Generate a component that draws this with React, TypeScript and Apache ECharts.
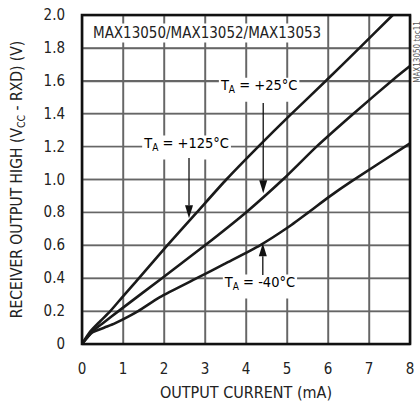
import React, { useEffect, useRef } from "react";
import * as echarts from "echarts";

// Output current (mA) and receiver output high voltage (V) for each temperature
const current125 = [0, 0.2, 0.45, 0.69, 1.0, 1.3, 2.08, 2.8, 3.52, 4.3, 5.07, 5.95, 6.77, 7.58];
const volt125 = [0, 0.075, 0.14, 0.2, 0.29, 0.375, 0.6, 0.8, 1.0, 1.2, 1.39, 1.6, 1.8, 2.0];

const current25 = [0, 0.25, 0.5, 0.89, 1.95, 3.0, 4.0, 4.9, 5.72, 6.62, 7.6, 8];
const volt25 = [0, 0.075, 0.125, 0.2, 0.4, 0.6, 0.8, 1.0, 1.2, 1.4, 1.61, 1.69];

const currentM40 = [0, 0.25, 0.55, 0.8, 1.37, 1.9, 2.8, 3.5, 4.34, 5.0, 5.52, 6.0, 6.58, 8];
const voltM40 = [0, 0.07, 0.1, 0.125, 0.2, 0.285, 0.4, 0.49, 0.6, 0.705, 0.8, 0.89, 0.99, 1.22];

const xTicks = ["0", "1", "2", "3", "4", "5", "6", "7", "8"];
const yTicks = ["0", "0.2", "0.4", "0.6", "0.8", "1.0", "1.2", "1.4", "1.6", "1.8", "2.0"];

// Annotation labels: temperature text, label centre (data units), arrow start and tip (data units)
const labelTemps = ["+125°C", "+25°C", "-40°C"];
const labelX = [2.55, 4.32, 4.34];
const labelY = [1.195, 1.545, 0.35];
const arrowX = [2.61, 4.42, 4.41];
const arrowFromY = [1.13, 1.465, 0.42];
const arrowToY = [0.765, 0.916, 0.612];

const FONT = "'Liberation Sans Narrow', 'Arial Narrow', 'DejaVu Sans Condensed', sans-serif";

const zip = (xs: number[], ys: number[]) => xs.map((x, i) => [x, ys[i]]);

export default function App() {
  const ref = useRef<HTMLDivElement>(null);
  useEffect(() => {
    if (!ref.current) return;
    const chart = echarts.init(ref.current, null, { renderer: "svg" });
    const mkSeries = (name: string, xs: number[], ys: number[]) => ({
      name,
      type: "line",
      data: zip(xs, ys),
      showSymbol: false,
      smooth: 0.2,
      lineStyle: { color: "#1a1a1a", width: 2.6 },
      z: 12,
    });
    chart.setOption({
      animation: false,
      grid: {
        left: 82,
        right: 10,
        top: 15,
        bottom: 60,
        containLabel: false,
        outerBoundsMode: "none",
        show: false,
      },
      xAxis: {
        type: "value",
        min: 0,
        max: 8,
        interval: 1,
        name: "OUTPUT CURRENT (mA)",
        nameLocation: "middle",
        nameGap: 40,
        nameMoveOverlap: false,
        nameTextStyle: { fontFamily: FONT, fontSize: 16, color: "#222" },
        axisLine: { show: false },
        axisTick: { show: false },
        axisLabel: {
          margin: 17,
          fontFamily: FONT,
          fontSize: 15,
          color: "#222",
          formatter: (v: number) => xTicks[Math.round(v)],
        },
        splitLine: { show: true, lineStyle: { color: "#666666", width: 1.4 } },
      },
      yAxis: {
        type: "value",
        min: 0,
        max: 2,
        interval: 0.2,
        name: "{n|RECEIVER OUTPUT HIGH (V}{s|CC}{n| - RXD) (V)}",
        nameLocation: "middle",
        nameRotate: 90,
        nameGap: 49,
        nameMoveOverlap: false,
        nameTextStyle: {
          fontFamily: FONT,
          color: "#222",
          rich: {
            n: { fontFamily: FONT, fontSize: 15.5, color: "#222", lineHeight: 16, verticalAlign: "top" },
            s: { fontFamily: FONT, fontSize: 10.5, color: "#222", lineHeight: 24, verticalAlign: "middle" },
          },
        },
        axisLine: { show: false },
        axisTick: { show: false },
        axisLabel: {
          margin: 17,
          fontFamily: FONT,
          fontSize: 15,
          color: "#222",
          formatter: (v: number) => yTicks[Math.round(v * 5)],
        },
        splitLine: { show: true, lineStyle: { color: "#666666", width: 1.4 } },
      },
      series: [
        mkSeries("TA = +125°C", current125, volt125),
        mkSeries("TA = +25°C", current25, volt25),
        mkSeries("TA = -40°C", currentM40, voltM40),
      ],
    });

    const px = (x: number, y: number) => chart.convertToPixel({ gridIndex: 0 }, [x, y]) as number[];
    const graphics: any[] = [];
    const [bx0, by0] = px(0, 2);
    const [bx1, by1] = px(8, 0);
    // grid lines at each tick value, placed through the axis scales
    const gridPts: number[][] = [];
    xTicks.slice(1, -1).forEach((t) => {
      const [gx] = px(Number(t), 0);
      gridPts.push([gx, by0, gx, by1]);
    });
    yTicks.slice(1, -1).forEach((t) => {
      const [, gy] = px(0, Number(t));
      gridPts.push([bx0, gy, bx1, gy]);
    });
    gridPts.forEach(([x1, y1, x2, y2]) => {
      graphics.push({
        type: "polyline",
        z: 11,
        shape: { points: [[x1, y1], [x2, y2]] },
        style: { stroke: "#666666", lineWidth: 1.4, fill: null },
      });
    });
    graphics.push({
      type: "rect",
      z: 15,
      shape: { x: bx0, y: by0, width: bx1 - bx0, height: by1 - by0 },
      style: { fill: null, stroke: "#111", lineWidth: 2.6 },
    });
    const rich = {
      t: { fontFamily: FONT, fontSize: 14.5, color: "#222", lineHeight: 15, verticalAlign: "top" },
      s: { fontFamily: FONT, fontSize: 10, color: "#222", lineHeight: 24, verticalAlign: "middle" },
    };
    labelTemps.forEach((t, i) => {
      const [lx, ly] = px(labelX[i], labelY[i]);
      graphics.push({
        type: "text",
        z: 20,
        x: lx,
        y: ly,
        style: {
          text: `{t|T}{s|A}{t| = ${t}}`,
          rich,
          align: "center",
          verticalAlign: "middle",
          backgroundColor: "#fff",
          padding: [0, 2],
        },
      });
      const [ax, ay1] = px(arrowX[i], arrowFromY[i]);
      const [, ay2] = px(arrowX[i], arrowToY[i]);
      const dir = ay2 > ay1 ? 1 : -1;
      const headLen = 13;
      const headW = 4;
      graphics.push({
        type: "line",
        z: 20,
        shape: { x1: ax, y1: ay1, x2: ax, y2: ay2 - dir * headLen },
        style: { stroke: "#111", lineWidth: 1.3 },
      });
      graphics.push({
        type: "polygon",
        z: 20,
        shape: {
          points: [
            [ax - headW, ay2 - dir * headLen],
            [ax + headW, ay2 - dir * headLen],
            [ax, ay2],
          ],
        },
        style: { fill: "#111" },
      });
    });
    graphics.push({
      type: "text",
      z: 20,
      x: bx0 + 9,
      y: by0 + 18,
      style: {
        text: "MAX13050/MAX13052/MAX13053",
        fontFamily: FONT,
        fontSize: 15,
        fill: "#222",
        align: "left",
        verticalAlign: "middle",
        backgroundColor: "#fff",
        padding: [2, 2],
      },
    });
    graphics.push({
      type: "text",
      z: 20,
      x: 417,
      y: 52,
      rotation: Math.PI / 2,
      style: {
        text: "MAX13050 toc11",
        fontFamily: FONT,
        fontSize: 8,
        fill: "#555",
        align: "center",
        verticalAlign: "middle",
      },
    });
    chart.setOption({ graphic: graphics });
    return () => chart.dispose();
  }, []);
  return (
    <div
      ref={ref}
      style={{ position: "fixed", left: 0, top: 0, width: 420, height: 404, background: "#fff" }}
    />
  );
}
